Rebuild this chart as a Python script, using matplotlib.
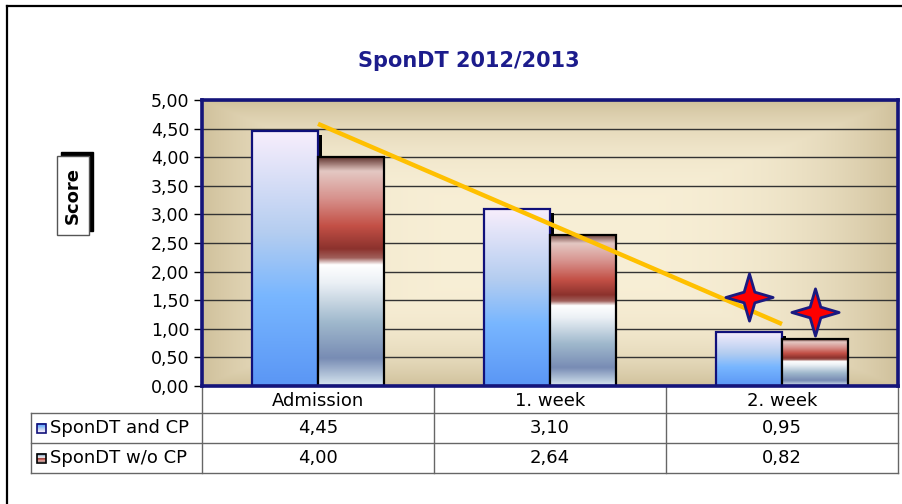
import numpy as np
import matplotlib
matplotlib.use("Agg")
import matplotlib.pyplot as plt
import matplotlib.transforms as mtransforms
from matplotlib.colors import LinearSegmentedColormap
from matplotlib.path import Path
from matplotlib.patches import Rectangle

# data
title = "SponDT 2012/2013"
ylabel = "Score"
categories = ["Admission", "1. week", "2. week"]
series_names = ["SponDT and CP", "SponDT w/o CP"]
with_cp = [4.45, 3.10, 0.95]
without_cp = [4.00, 2.64, 0.82]
star_values = [1.55, 1.30]  # the two star markers over "2. week"
yticks = [0.0, 0.5, 1.0, 1.5, 2.0, 2.5, 3.0, 3.5, 4.0, 4.5, 5.0]


def fmt(v):
    return f"{v:.2f}".replace(".", ",")


def rgb(*c):
    return tuple(v / 255 for v in c)


# bar fills, bottom -> top
blue_cmap = LinearSegmentedColormap.from_list(
    "blue_bar",
    [(0.0, rgb(90, 150, 245)), (0.35, rgb(120, 182, 255)),
     (0.6, rgb(180, 205, 240)), (1.0, rgb(248, 238, 252))],
)
red_cmap = LinearSegmentedColormap.from_list(
    "red_bar",
    [(0.0, rgb(215, 230, 240)), (0.12, rgb(120, 140, 180)),
     (0.28, rgb(160, 185, 205)), (0.45, rgb(235, 240, 245)),
     (0.53, rgb(255, 255, 255)), (0.56, rgb(160, 95, 90)),
     (0.60, rgb(140, 50, 45)), (0.70, rgb(195, 80, 70)),
     (0.82, rgb(215, 145, 140)), (0.94, rgb(228, 200, 195)),
     (1.0, rgb(100, 55, 50))],
)


def fill_bars(ax, bars, cmap, z):
    grad = np.linspace(0, 1, 256).reshape(-1, 1)
    for b in bars:
        x0, y0 = b.get_x(), b.get_y()
        im = ax.imshow(grad, cmap=cmap, origin="lower", aspect="auto",
                       extent=(x0, x0 + b.get_width(), y0, y0 + b.get_height()),
                       interpolation="bilinear", zorder=z)
        im.set_clip_path(b)


def main():
    W, H = 902, 504
    fig = plt.figure(figsize=(W / 100, H / 100), dpi=100)

    # full-figure overlay in pixel coords for frame / table
    bg = fig.add_axes([0, 0, 1, 1])
    bg.set_xlim(0, W)
    bg.set_ylim(H, 0)
    bg.axis("off")
    bg.plot([7, 7], [6, H], color="black", lw=1.6)
    bg.plot([7, W], [6, 6], color="black", lw=1.6)

    left, right, top, bottom = 202, 898, 100, 386
    ax = fig.add_axes([left / W, 1 - bottom / H, (right - left) / W, (bottom - top) / H])
    ax.set_xlim(-0.5, len(categories) - 0.5)
    ax.set_ylim(0, 5)

    # plot area background: cream centre, tan edges
    u = np.linspace(-1, 1, 400)
    v = np.linspace(-1, 1, 200)
    uu, vv = np.meshgrid(u, v)
    t = np.clip(np.maximum(np.abs(uu), np.abs(vv)), 0, 1) ** 3.5
    centre = np.array(rgb(248, 239, 214))
    edge = np.array(rgb(208, 193, 156))
    img = centre[None, None, :] * (1 - t[..., None]) + edge[None, None, :] * t[..., None]
    ax.imshow(img, extent=(-0.5, len(categories) - 0.5, 0, 5), aspect="auto",
              zorder=0, interpolation="bilinear")

    ax.set_yticks(yticks)
    ax.set_yticklabels([fmt(v) for v in yticks])
    ax.set_xticks([])
    ax.yaxis.grid(True, color="#333333", lw=1)
    ax.set_axisbelow(True)
    ax.tick_params(axis="y", direction="out", length=6, width=1, color="black",
                   labelsize=12.5, pad=3)
    for s in ax.spines.values():
        s.set_color("#14147a")
        s.set_linewidth(2.6)
        s.set_zorder(6)

    x = np.arange(len(categories))
    w = 0.284

    # shadow behind the first series
    shadow_tr = mtransforms.offset_copy(ax.transData, fig=fig, x=4, y=-4, units="dots")
    ax.bar(x - w / 2, with_cp, w, color="black", zorder=1.5, transform=shadow_tr)

    b1 = ax.bar(x - w / 2, with_cp, w, facecolor="none", edgecolor="#10107a",
                lw=1.6, zorder=2.2)
    fill_bars(ax, b1, blue_cmap, 2.0)
    b2 = ax.bar(x + w / 2, without_cp, w, facecolor="none", edgecolor="black",
                lw=1.6, zorder=2.6)
    fill_bars(ax, b2, red_cmap, 2.4)

    # linear trend of the first series
    coef = np.polyfit(x, with_cp, 1)
    ax.plot([x[0], x[-1]], np.polyval(coef, [x[0], x[-1]]), color="#FFC000",
            lw=3.2, solid_capstyle="butt", zorder=3)

    star = Path.unit_regular_star(4, innerCircle=0.32)
    ax.plot([x[-1] - w / 2, x[-1] + w / 2], star_values, ls="none", marker=star,
            ms=34, mfc="#ff0000", mec="#1a1a80", mew=2.0, zorder=4)

    # title and boxed y label
    fig.text(469 / W, 1 - 61 / H, title, ha="center", va="center", fontsize=15,
             fontweight="bold", color="#1c1c8c")
    bg.add_patch(Rectangle((61, 152), 32, 79, facecolor="black", edgecolor="black", lw=1))
    bg.add_patch(Rectangle((57, 156), 32, 79, facecolor="white", edgecolor="#555555", lw=1))
    bg.text(73, 195.5, ylabel, rotation=90, ha="center", va="center", fontsize=13,
            fontweight="bold")

    # data table under the axis
    edges_x = [ax.transData.transform((e, 0))[0] for e in np.arange(len(categories) + 1) - 0.5]
    rows_y = [bottom, 413, 443, 473]
    line_kw = dict(color="#666666", lw=1)
    for xe in edges_x:
        bg.plot([xe, xe], [rows_y[0], rows_y[-1]], **line_kw)
    bg.plot([31, 31], [rows_y[1], rows_y[-1]], **line_kw)
    for yr in rows_y[1:]:
        bg.plot([31, edges_x[-1]], [yr, yr], **line_kw)

    for i, cat in enumerate(categories):
        cx = (edges_x[i] + edges_x[i + 1]) / 2
        bg.text(cx, (rows_y[0] + rows_y[1]) / 2 + 1, cat, ha="center", va="center", fontsize=13)
        for r, vals in enumerate([with_cp, without_cp]):
            bg.text(cx, (rows_y[r + 1] + rows_y[r + 2]) / 2, fmt(vals[i]),
                    ha="center", va="center", fontsize=13)

    grad = np.linspace(0, 1, 64).reshape(-1, 1)
    for r, (name, cmap, ec) in enumerate(zip(series_names, [blue_cmap, red_cmap],
                                             ["#10107a", "black"])):
        cy = (rows_y[r + 1] + rows_y[r + 2]) / 2
        bg.imshow(grad, cmap=cmap, origin="upper", aspect="auto",
                  extent=(37, 46, cy + 4.5, cy - 4.5), zorder=3)
        bg.add_patch(Rectangle((37, cy - 4.5), 9, 9, facecolor="none", edgecolor=ec,
                               lw=1.2, zorder=4))
        bg.text(50, cy, name, ha="left", va="center", fontsize=13)
    bg.set_xlim(0, W)
    bg.set_ylim(H, 0)

    fig.savefig("out.png", dpi=100)
    plt.close(fig)


if __name__ == "__main__":
    main()
